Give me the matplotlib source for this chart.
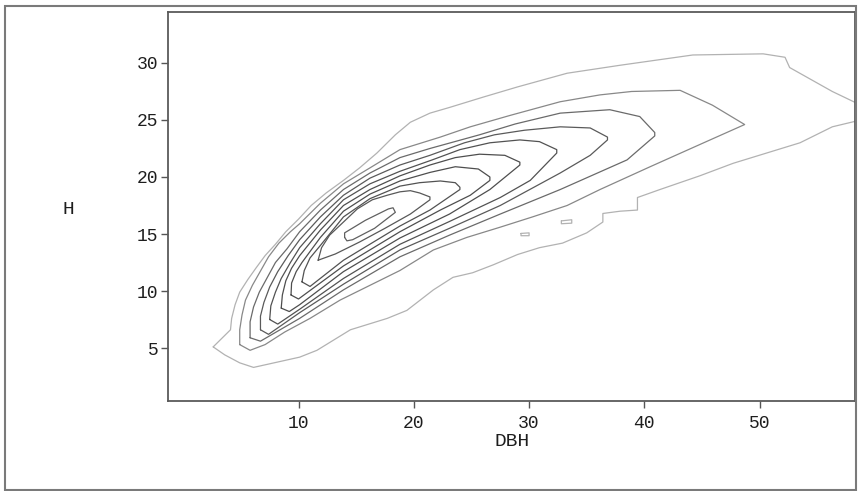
import matplotlib
matplotlib.use("Agg")
import matplotlib.pyplot as plt
from matplotlib.patches import Rectangle

# ---- data (DBH, H) for each contour line, outermost first ----
c1_x = [2.6, 3.4, 4.1, 4.2, 4.5, 4.9, 5.6, 6.3, 7.1, 8.0, 8.9, 10.0, 11.1, 12.4, 13.9, 15.3, 16.8, 18.4,
        19.7, 21.4, 23.1, 26.0, 29.0, 33.3, 37.9, 44.2, 50.3, 52.2, 52.6, 56.3, 59.6,
        59.6, 56.3, 53.5, 50.6, 47.7, 44.8, 41.35, 39.4, 39.4, 37.9, 36.4, 36.4, 35.0, 32.9, 30.9, 29.0,
        26.9, 25.1, 23.4, 21.7, 19.4, 17.7, 14.5, 11.6, 10.1, 6.1, 4.9, 3.6, 2.6]
c1_y = [5.1, 5.9, 6.6, 7.6, 8.8, 9.9, 11.0, 12.0, 13.1, 14.1, 15.2, 16.3, 17.5, 18.6, 19.7, 20.8, 22.1, 23.7,
        24.8, 25.6, 26.1, 27.0, 27.9, 29.1, 29.8, 30.7, 30.8, 30.5, 29.6, 27.5, 25.9,
        25.2, 24.4, 23.0, 22.1, 21.2, 20.1, 18.9, 18.2, 17.1, 17.0, 16.8, 16.05, 15.1, 14.2, 13.8, 13.2,
        12.3, 11.6, 11.2, 10.1, 8.3, 7.6, 6.6, 4.8, 4.2, 3.3, 3.7, 4.4, 5.1]

# two tiny islands of the outermost level
isl1_x = [32.8, 33.7, 33.7, 32.8, 32.8]
isl1_y = [16.15, 16.25, 15.95, 15.9, 16.15]
isl2_x = [29.3, 30.0, 30.0, 29.3, 29.3]
isl2_y = [15.05, 15.1, 14.85, 14.85, 15.05]

c2_x = [4.9, 4.9, 5.1, 5.4, 6.0, 6.7, 7.4, 8.3, 9.3, 10.1, 11.9, 13.9, 16.2, 18.8, 22.3, 24.9, 28.35, 32.7,
        36.15, 38.9, 43.1, 45.9, 48.7,
        45.7, 40.5, 36.15, 33.3, 30.3, 27.5, 24.6, 21.7, 18.8, 16.2, 13.6, 11.0, 8.8, 7.1, 5.8, 4.9]
c2_y = [5.3, 6.6, 7.9, 9.2, 10.5, 11.75, 13.0, 14.2, 15.2, 15.9, 17.7, 19.4, 20.8, 22.4, 23.5, 24.4, 25.4, 26.6,
        27.2, 27.5, 27.6, 26.3, 24.6,
        23.25, 20.9, 18.9, 17.5, 16.5, 15.6, 14.7, 13.6, 11.8, 10.5, 9.2, 7.6, 6.4, 5.3, 4.8, 5.3]

c3_x = [5.8, 5.8, 6.1, 6.6, 7.3, 8.0, 9.0, 10.1, 11.9, 13.9, 16.2, 18.8, 21.4, 25.7, 28.8, 32.7, 37.0, 39.6, 40.9,
        40.9, 38.5, 32.7, 27.5, 23.1, 18.8, 13.9, 10.1, 6.7, 5.8]
c3_y = [5.9, 7.3, 8.6, 9.9, 11.2, 12.5, 13.7, 15.2, 17.1, 18.9, 20.35, 21.7, 22.5, 23.7, 24.65, 25.6, 25.9, 25.3, 23.9,
        23.6, 21.5, 18.9, 16.75, 14.9, 13.0, 10.1, 7.6, 5.6, 5.9]

c4_x = [6.7, 6.7, 7.0, 7.5, 8.2, 9.1, 10.1, 11.9, 13.9, 16.2, 18.8, 21.4, 24.4, 27.0, 29.6, 32.7, 35.3, 36.8,
        36.8, 35.3, 32.7, 27.5, 23.1, 18.8, 13.9, 10.1, 7.4, 6.7]
c4_y = [6.6, 7.8, 9.0, 10.35, 11.7, 13.1, 14.5, 16.5, 18.4, 19.9, 21.05, 21.9, 23.0, 23.7, 24.1, 24.4, 24.3, 23.5,
        23.25, 21.9, 20.35, 17.5, 15.5, 13.6, 10.6, 8.1, 6.2, 6.6]

c5_x = [7.5, 7.6, 8.0, 8.5, 9.3, 10.1, 11.9, 13.9, 16.2, 18.8, 21.6, 24.0, 26.6, 29.2, 30.9, 32.4,
        32.4, 30.1, 27.5, 23.1, 18.8, 13.9, 10.1, 8.2, 7.5]
c5_y = [7.5, 8.7, 9.9, 11.1, 12.5, 13.8, 15.9, 18.0, 19.4, 20.5, 21.5, 22.4, 23.0, 23.25, 23.1, 22.4,
        22.1, 19.7, 18.2, 16.1, 14.1, 11.1, 8.4, 7.1, 7.5]

c6_x = [8.5, 8.6, 8.9, 9.4, 10.1, 11.9, 13.9, 16.2, 18.8, 21.4, 23.6, 25.7, 27.9, 29.2,
        29.2, 26.6, 23.1, 18.8, 13.9, 10.1, 9.2, 8.5]
c6_y = [8.5, 9.65, 10.9, 12.0, 13.1, 15.35, 17.5, 18.9, 20.1, 21.05, 21.7, 22.0, 21.9, 21.3,
        21.05, 18.9, 16.75, 14.65, 11.7, 8.8, 8.2, 8.5]

c7_x = [9.35, 9.4, 9.8, 10.3, 11.9, 13.9, 16.2, 18.8, 21.4, 23.6, 25.6, 26.6,
        26.6, 24.9, 22.3, 18.8, 13.9, 10.0, 9.35]
c7_y = [9.65, 10.7, 11.7, 12.5, 14.7, 17.0, 18.5, 19.65, 20.4, 20.9, 20.7, 20.0,
        19.7, 18.4, 17.1, 15.2, 12.2, 9.3, 9.65]

c8_x = [10.3, 10.5, 11.0, 11.9, 13.9, 16.2, 18.8, 20.5, 22.3, 23.6, 24.0,
        24.0, 21.4, 18.8, 13.9, 11.0, 10.3]
c8_y = [10.8, 11.8, 12.9, 14.0, 16.5, 18.1, 19.2, 19.5, 19.65, 19.5, 19.1,
        18.9, 17.1, 15.7, 12.7, 10.4, 10.8]

c9_x = [11.7, 12.0, 12.7, 13.9, 15.1, 16.4, 17.7, 18.8, 19.7, 20.5, 21.4,
        21.4, 19.7, 17.5, 15.3, 13.2, 11.7]
c9_y = [12.7, 13.8, 14.9, 16.05, 17.2, 18.0, 18.4, 18.7, 18.8, 18.6, 18.25,
        18.0, 16.75, 15.5, 14.3, 13.25, 12.7]

c10_x = [14.0, 14.2, 14.7, 16.6, 18.4, 18.2, 17.8, 15.8, 14.0, 14.0]
c10_y = [14.7, 14.4, 14.5, 15.5, 16.9, 17.3, 17.2, 16.2, 15.1, 14.7]

x_ticks = [10, 20, 30, 40, 50]
y_ticks = [5, 10, 15, 20, 25, 30]
x_label = "DBH"
y_label = "H"

contours = [(c1_x, c1_y), (isl1_x, isl1_y), (isl2_x, isl2_y),
            (c2_x, c2_y), (c3_x, c3_y), (c4_x, c4_y), (c5_x, c5_y),
            (c6_x, c6_y), (c7_x, c7_y), (c8_x, c8_y), (c9_x, c9_y), (c10_x, c10_y)]
grays = ["#b2b2b2", "#b2b2b2", "#b2b2b2", "#888888", "#6a6a6a", "#5a5a5a", "#525252",
         "#4e4e4e", "#4e4e4e", "#525252", "#585858", "#606060"]

W, H = 858, 491
fig = plt.figure(figsize=(W / 100, H / 100), dpi=100)
fig.patch.set_facecolor("white")

ax = fig.add_axes([168 / W, (H - 400.7) / H, (855 - 168) / W, (400.7 - 12) / H])
for (xs, ys), col in zip(contours, grays):
    ax.plot(xs, ys, color=col, lw=0.9, solid_joinstyle="round", solid_capstyle="round")

ax.set_xlim(-1.32, 58.27)
ax.set_ylim(0.38, 34.47)
ax.set_xticks(x_ticks)
ax.set_yticks(y_ticks)
font = ["Liberation Mono", "DejaVu Sans Mono"]
ax.set_xticklabels([str(v) for v in x_ticks], family=font, fontsize=13, color="#1e1e1e")
ax.set_yticklabels([str(v) for v in y_ticks], family=font, fontsize=13, color="#1e1e1e")
ax.tick_params(axis="both", direction="out", length=5, width=1.0, color="#555555")
ax.tick_params(axis="x", pad=5)
ax.tick_params(axis="y", pad=2)
for s in ax.spines.values():
    s.set_color("#5a5a5a")
    s.set_linewidth(1.3)

fig.text(68 / W, (H - 210) / H, y_label, family=font, fontsize=14, color="#1e1e1e",
         ha="center", va="center")
fig.text(512 / W, (H - 442) / H, x_label, family=font, fontsize=14, color="#1e1e1e",
         ha="center", va="center")

fig.patches.append(Rectangle((5 / W, 1.5 / H), (856 - 5) / W, (489 - 5) / H, transform=fig.transFigure,
                             fill=False, edgecolor="#7a7a7a", linewidth=1.5))

fig.savefig("out.png", dpi=100)
